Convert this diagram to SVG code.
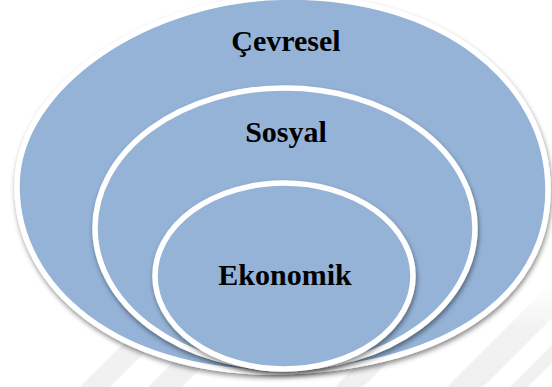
<svg xmlns="http://www.w3.org/2000/svg" width="552" height="387" viewBox="0 0 552 387">
  <defs>
    <style>
      .shape { fill: #95B3D7; stroke: #FFFFFF; stroke-width: 5.5; filter: url(#sh); }
      .label { font-family: "Liberation Serif", "Times New Roman", serif; font-weight: bold; font-size: 30px; fill: #000000; text-anchor: middle; }
      .stripe { fill: url(#fade); }
    </style>
    <filter id="sh" x="-10%" y="-10%" width="120%" height="125%">
      <feDropShadow dx="1" dy="3" stdDeviation="2.5" flood-color="#000000" flood-opacity="0.45"/>
    </filter>
    <linearGradient id="fade" x1="0" y1="285" x2="0" y2="387" gradientUnits="userSpaceOnUse">
      <stop offset="0" stop-color="#F2F2F2" stop-opacity="0"/>
      <stop offset="0.45" stop-color="#F2F2F2" stop-opacity="1"/>
      <stop offset="1" stop-color="#F0F0F0" stop-opacity="1"/>
    </linearGradient>
  </defs>
  <rect x="0" y="0" width="552" height="387" fill="#FFFFFF"/>
  <g id="background-stripes">
    <polygon class="stripe" points="80,387 110,387 210,287 180,287"/>
    <polygon class="stripe" points="148,387 182,387 282,287 248,287"/>
    <polygon class="stripe" points="335,387 363,387 463,287 435,287"/>
    <polygon class="stripe" points="447,387 483,387 583,287 547,287"/>
    <polygon class="stripe" points="510,387 528,387 628,287 610,287"/>
  </g>
  <g id="cevresel">
    <path class="shape" d="M290,-3 C440,-3 548,80 548,190 C548,300 440,371 270,372 C120,371 17,290 17,186 C17,85 150,-3 290,-3 Z"/>
    <text class="label" x="286" y="51">Çevresel</text>
  </g>
  <g id="sosyal">
    <ellipse class="shape" cx="285" cy="228" rx="190" ry="140"/>
    <text class="label" x="286" y="142">Sosyal</text>
  </g>
  <g id="ekonomik">
    <ellipse class="shape" cx="284" cy="276" rx="129" ry="93"/>
    <text class="label" x="285" y="285">Ekonomik</text>
  </g>
  <g id="connectors"/>
</svg>
